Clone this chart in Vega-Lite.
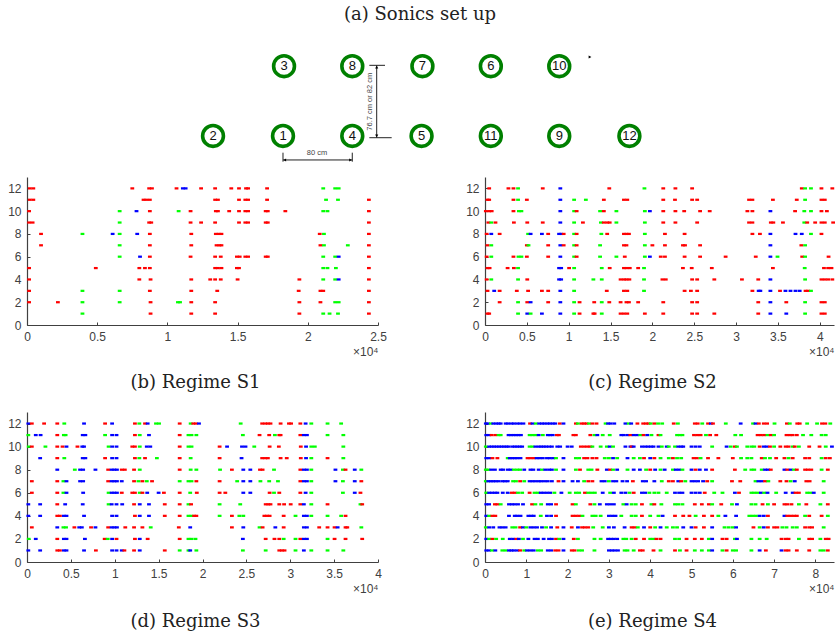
{"$schema":"https://vega.github.io/schema/vega-lite/v6.json","padding":{"left":7,"top":6,"right":0,"bottom":0},"background":"white","spacing":20,
"config":{"view":{"stroke":null},"axis":{"grid":false,"labelFlush":false,"labelOverlap":false,"domainColor":"#404040","domainWidth":1.2,"tickColor":"#404040","tickSize":-3,"labelColor":"#404040","labelFont":"Liberation Sans","labelFontSize":12,"labelPadding":9,"titleFont":"Liberation Sans","titleFontSize":12,"titleColor":"#404040","titleFontWeight":"normal","labelAngle":0},"title":{"font":"DejaVu Serif","fontSize":18,"fontWeight":"normal","color":"#222222"}},
"vconcat":[
{"spacing":7,"vconcat":[
{"width":786,"height":140,"title":{"text":"(a) Sonics set up","orient":"top","anchor":"middle","offset":6},
"encoding":{"x":{"field":"x","type":"quantitative","scale":{"domain":[-295.6,612],"nice":false,"zero":false},"axis":null},"y":{"field":"y","type":"quantitative","scale":{"domain":[-39.3,122.4],"nice":false,"zero":false},"axis":null}},
"layer":[
{"data":{"values":[{"x":99.7,"x2":117.8,"y":81.6,"y2":81.6},{"x":99.7,"x2":125.5,"y":-2,"y2":-2},{"x":108.2,"x2":108.2,"y":-2,"y2":81.6},{"x":0,"x2":80,"y":-27.7,"y2":-27.7},{"x":0,"x2":0,"y":-19.3,"y2":-29.7},{"x":80,"x2":80,"y":-19.3,"y2":-29.7}]},"mark":{"type":"rule","color":"#222222","strokeWidth":1},"encoding":{"x2":{"field":"x2"},"y2":{"field":"y2"}}},
{"data":{"values":[{"x":2,"y":-27.7,"k":"triangle-left"},{"x":78,"y":-27.7,"k":"triangle-right"},{"x":108.2,"y":79.5,"k":"triangle-up"},{"x":108.2,"y":0,"k":"triangle-down"},{"x":354.5,"y":91.2,"k":"triangle-right"}]},"mark":{"type":"point","filled":true,"color":"black","size":10,"opacity":1},"encoding":{"shape":{"field":"k","type":"nominal","scale":null}}},
{"data":{"values":[{"x":-80.8,"y":0,"n":"2"},{"x":0,"y":0,"n":"1"},{"x":80,"y":0,"n":"4"},{"x":160,"y":0,"n":"5"},{"x":240,"y":0,"n":"11"},{"x":319,"y":0,"n":"9"},{"x":400,"y":0,"n":"12"},{"x":1.2,"y":80.6,"n":"3"},{"x":80,"y":80.6,"n":"8"},{"x":161,"y":80.6,"n":"7"},{"x":240,"y":80.6,"n":"6"},{"x":319,"y":80.6,"n":"10"}]},
"layer":[{"mark":{"type":"point","shape":"circle","filled":false,"color":"#008000","strokeWidth":3.6,"size":434,"opacity":1}},
{"mark":{"type":"text","font":"Liberation Sans","fontSize":13,"color":"#111111"},"encoding":{"text":{"field":"n"}}}]},
{"data":{"values":[{"x":39.3,"y":-20,"n":"80 cm","a":0},{"x":100.5,"y":39.6,"n":"76.7 cm or 82 cm","a":270}]},"mark":{"type":"text","font":"Liberation Sans","fontSize":7.5,"color":"#444444"},"encoding":{"text":{"field":"n"},"angle":{"field":"a","type":"quantitative","scale":null}}}
]},
{"spacing":78,"hconcat":[
{"width":351,"height":148,"title":{"text":"(b) Regime S1","orient":"bottom","anchor":"middle","offset":17,"dx":-7},
"data":{"values":[
{"t":0.02,"s":12,"c":"r"},{"t":0.045,"s":12,"c":"r"},{"t":0.75,"s":12,"c":"r"},{"t":0.87,"s":12,"c":"r"},{"t":0.89,"s":12,"c":"r"},{"t":1.065,"s":12,"c":"r"},{"t":1.11,"s":12,"c":"b"},{"t":1.13,"s":12,"c":"b"},{"t":1.24,"s":12,"c":"r"},{"t":1.34,"s":12,"c":"r"},{"t":1.455,"s":12,"c":"r"},{"t":1.51,"s":12,"c":"r"},{"t":1.56,"s":12,"c":"r"},{"t":1.575,"s":12,"c":"r"},{"t":1.71,"s":12,"c":"r"},{"t":2.11,"s":12,"c":"g"},{"t":2.195,"s":12,"c":"g"},{"t":2.22,"s":12,"c":"g"},
{"t":0.02,"s":11,"c":"r"},{"t":0.045,"s":11,"c":"r"},{"t":0.83,"s":11,"c":"r"},{"t":0.85,"s":11,"c":"r"},{"t":0.875,"s":11,"c":"r"},{"t":1.34,"s":11,"c":"r"},{"t":1.36,"s":11,"c":"r"},{"t":1.51,"s":11,"c":"r"},{"t":1.555,"s":11,"c":"r"},{"t":1.575,"s":11,"c":"r"},{"t":1.71,"s":11,"c":"r"},{"t":2.13,"s":11,"c":"g"},{"t":2.215,"s":11,"c":"g"},{"t":2.435,"s":11,"c":"r"},
{"t":0.015,"s":10,"c":"r"},{"t":0.66,"s":10,"c":"g"},{"t":0.78,"s":10,"c":"b"},{"t":0.875,"s":10,"c":"r"},{"t":1.08,"s":10,"c":"g"},{"t":1.165,"s":10,"c":"r"},{"t":1.345,"s":10,"c":"r"},{"t":1.36,"s":10,"c":"r"},{"t":1.44,"s":10,"c":"r"},{"t":1.51,"s":10,"c":"r"},{"t":1.555,"s":10,"c":"r"},{"t":1.575,"s":10,"c":"r"},{"t":1.7,"s":10,"c":"r"},{"t":1.715,"s":10,"c":"r"},{"t":1.84,"s":10,"c":"r"},{"t":2.11,"s":10,"c":"g"},{"t":2.14,"s":10,"c":"g"},{"t":2.435,"s":10,"c":"r"},
{"t":0.015,"s":9,"c":"r"},{"t":0.04,"s":9,"c":"r"},{"t":0.66,"s":9,"c":"g"},{"t":0.87,"s":9,"c":"r"},{"t":0.885,"s":9,"c":"r"},{"t":1.165,"s":9,"c":"r"},{"t":1.24,"s":9,"c":"r"},{"t":1.34,"s":9,"c":"r"},{"t":1.51,"s":9,"c":"r"},{"t":1.555,"s":9,"c":"r"},{"t":1.575,"s":9,"c":"r"},{"t":1.7,"s":9,"c":"r"},{"t":1.715,"s":9,"c":"r"},{"t":2.435,"s":9,"c":"r"},
{"t":0.1,"s":8,"c":"r"},{"t":0.395,"s":8,"c":"g"},{"t":0.61,"s":8,"c":"b"},{"t":0.66,"s":8,"c":"g"},{"t":0.785,"s":8,"c":"b"},{"t":0.875,"s":8,"c":"r"},{"t":1.17,"s":8,"c":"r"},{"t":1.345,"s":8,"c":"r"},{"t":1.365,"s":8,"c":"r"},{"t":1.385,"s":8,"c":"r"},{"t":2.085,"s":8,"c":"r"},{"t":2.115,"s":8,"c":"g"},{"t":2.435,"s":8,"c":"r"},
{"t":0.1,"s":7,"c":"r"},{"t":0.66,"s":7,"c":"g"},{"t":0.875,"s":7,"c":"r"},{"t":1.17,"s":7,"c":"r"},{"t":1.35,"s":7,"c":"r"},{"t":1.37,"s":7,"c":"r"},{"t":1.385,"s":7,"c":"r"},{"t":2.09,"s":7,"c":"r"},{"t":2.115,"s":7,"c":"g"},{"t":2.285,"s":7,"c":"g"},{"t":2.435,"s":7,"c":"r"},
{"t":0.66,"s":6,"c":"g"},{"t":0.805,"s":6,"c":"b"},{"t":0.875,"s":6,"c":"r"},{"t":1.165,"s":6,"c":"r"},{"t":1.34,"s":6,"c":"r"},{"t":1.38,"s":6,"c":"r"},{"t":1.495,"s":6,"c":"r"},{"t":1.515,"s":6,"c":"r"},{"t":1.555,"s":6,"c":"r"},{"t":1.575,"s":6,"c":"r"},{"t":1.7,"s":6,"c":"r"},{"t":1.715,"s":6,"c":"r"},{"t":2.11,"s":6,"c":"g"},{"t":2.195,"s":6,"c":"g"},{"t":2.22,"s":6,"c":"b"},{"t":2.435,"s":6,"c":"r"},
{"t":0.015,"s":5,"c":"r"},{"t":0.49,"s":5,"c":"r"},{"t":0.8,"s":5,"c":"r"},{"t":0.84,"s":5,"c":"r"},{"t":0.875,"s":5,"c":"r"},{"t":1.34,"s":5,"c":"r"},{"t":1.36,"s":5,"c":"r"},{"t":1.385,"s":5,"c":"r"},{"t":1.495,"s":5,"c":"r"},{"t":1.51,"s":5,"c":"r"},{"t":2.11,"s":5,"c":"g"},{"t":2.14,"s":5,"c":"g"},{"t":2.2,"s":5,"c":"g"},{"t":2.435,"s":5,"c":"r"},
{"t":0.015,"s":4,"c":"r"},{"t":0.8,"s":4,"c":"r"},{"t":0.88,"s":4,"c":"r"},{"t":1.17,"s":4,"c":"r"},{"t":1.305,"s":4,"c":"r"},{"t":1.34,"s":4,"c":"r"},{"t":1.38,"s":4,"c":"r"},{"t":1.5,"s":4,"c":"r"},{"t":1.94,"s":4,"c":"r"},{"t":2.11,"s":4,"c":"g"},{"t":2.195,"s":4,"c":"g"},{"t":2.22,"s":4,"c":"b"},{"t":2.435,"s":4,"c":"r"},
{"t":0.015,"s":3,"c":"r"},{"t":0.395,"s":3,"c":"g"},{"t":0.66,"s":3,"c":"g"},{"t":0.875,"s":3,"c":"r"},{"t":1.17,"s":3,"c":"r"},{"t":1.355,"s":3,"c":"r"},{"t":1.935,"s":3,"c":"r"},{"t":2.09,"s":3,"c":"r"},{"t":2.11,"s":3,"c":"r"},{"t":2.435,"s":3,"c":"r"},
{"t":0.015,"s":2,"c":"r"},{"t":0.22,"s":2,"c":"r"},{"t":0.395,"s":2,"c":"g"},{"t":0.66,"s":2,"c":"g"},{"t":0.88,"s":2,"c":"r"},{"t":1.075,"s":2,"c":"g"},{"t":1.09,"s":2,"c":"g"},{"t":1.17,"s":2,"c":"r"},{"t":1.34,"s":2,"c":"r"},{"t":1.94,"s":2,"c":"r"},{"t":2.09,"s":2,"c":"r"},{"t":2.195,"s":2,"c":"g"},{"t":2.22,"s":2,"c":"g"},{"t":2.435,"s":2,"c":"r"},
{"t":0.395,"s":1,"c":"g"},{"t":0.88,"s":1,"c":"r"},{"t":1.17,"s":1,"c":"r"},{"t":1.34,"s":1,"c":"r"},{"t":1.94,"s":1,"c":"r"},{"t":2.11,"s":1,"c":"g"},{"t":2.155,"s":1,"c":"g"},{"t":2.215,"s":1,"c":"g"},{"t":2.435,"s":1,"c":"r"}
]},
"mark":{"type":"point","filled":true,"opacity":1,"size":5,"shape":"M-1.7,-1H1.7V1H-1.7Z"},
"encoding":{"x":{"field":"t","type":"quantitative","scale":{"domain":[0,2.5]},"axis":{"values":[0,0.5,1,1.5,2,2.5],"format":"~g","title":"×10⁴","titleAnchor":"end","titleAlign":"right","titlePadding":4}},"y":{"field":"s","type":"quantitative","scale":{"domain":[0,13]},"axis":{"values":[0,2,4,6,8,10,12],"title":null}},"color":{"field":"c","type":"nominal","scale":{"domain":["r","g","b"],"range":["#ff0000","#00ff00","#0000ff"]},"legend":null}}},
{"width":349,"height":148,"title":{"text":"(c) Regime S2","orient":"bottom","anchor":"middle","offset":17,"dx":-7},
"data":{"values":[
{"t":0.05,"s":12,"c":"r"},{"t":0.28,"s":12,"c":"r"},{"t":0.34,"s":12,"c":"r"},{"t":0.395,"s":12,"c":"g"},{"t":0.69,"s":12,"c":"r"},{"t":0.9,"s":12,"c":"b"},{"t":1.485,"s":12,"c":"r"},{"t":1.905,"s":12,"c":"g"},{"t":2.13,"s":12,"c":"r"},{"t":2.275,"s":12,"c":"r"},{"t":2.475,"s":12,"c":"r"},{"t":3.785,"s":12,"c":"r"},{"t":3.825,"s":12,"c":"g"},{"t":3.895,"s":12,"c":"g"},{"t":4.02,"s":12,"c":"r"},{"t":4.15,"s":12,"c":"r"},
{"t":0.03,"s":11,"c":"r"},{"t":0.05,"s":11,"c":"r"},{"t":0.34,"s":11,"c":"r"},{"t":0.395,"s":11,"c":"g"},{"t":0.5,"s":11,"c":"r"},{"t":0.9,"s":11,"c":"b"},{"t":1.065,"s":11,"c":"g"},{"t":1.205,"s":11,"c":"g"},{"t":1.42,"s":11,"c":"r"},{"t":1.66,"s":11,"c":"r"},{"t":1.7,"s":11,"c":"r"},{"t":2.13,"s":11,"c":"r"},{"t":2.27,"s":11,"c":"r"},{"t":2.475,"s":11,"c":"r"},{"t":2.535,"s":11,"c":"r"},{"t":3.155,"s":11,"c":"r"},{"t":3.195,"s":11,"c":"r"},{"t":3.44,"s":11,"c":"r"},{"t":3.725,"s":11,"c":"r"},{"t":3.825,"s":11,"c":"g"},{"t":4.02,"s":11,"c":"r"},{"t":4.06,"s":11,"c":"r"},
{"t":0.01,"s":10,"c":"r"},{"t":0.05,"s":10,"c":"r"},{"t":0.08,"s":10,"c":"r"},{"t":0.34,"s":10,"c":"r"},{"t":0.405,"s":10,"c":"g"},{"t":0.435,"s":10,"c":"g"},{"t":0.9,"s":10,"c":"b"},{"t":1.065,"s":10,"c":"g"},{"t":1.095,"s":10,"c":"r"},{"t":1.375,"s":10,"c":"g"},{"t":1.42,"s":10,"c":"r"},{"t":1.57,"s":10,"c":"g"},{"t":1.91,"s":10,"c":"g"},{"t":1.97,"s":10,"c":"b"},{"t":2.13,"s":10,"c":"r"},{"t":2.275,"s":10,"c":"r"},{"t":2.38,"s":10,"c":"r"},{"t":2.57,"s":10,"c":"r"},{"t":2.685,"s":10,"c":"r"},{"t":3.135,"s":10,"c":"r"},{"t":3.195,"s":10,"c":"r"},{"t":3.41,"s":10,"c":"b"},{"t":3.705,"s":10,"c":"r"},{"t":3.815,"s":10,"c":"g"},{"t":3.895,"s":10,"c":"g"},{"t":4.02,"s":10,"c":"r"},{"t":4.085,"s":10,"c":"r"},
{"t":0.04,"s":9,"c":"r"},{"t":0.075,"s":9,"c":"g"},{"t":0.125,"s":9,"c":"r"},{"t":0.345,"s":9,"c":"r"},{"t":0.505,"s":9,"c":"r"},{"t":0.69,"s":9,"c":"r"},{"t":0.9,"s":9,"c":"b"},{"t":1.065,"s":9,"c":"g"},{"t":1.17,"s":9,"c":"r"},{"t":1.385,"s":9,"c":"g"},{"t":1.42,"s":9,"c":"r"},{"t":1.46,"s":9,"c":"r"},{"t":1.49,"s":9,"c":"r"},{"t":1.57,"s":9,"c":"g"},{"t":1.91,"s":9,"c":"g"},{"t":2.13,"s":9,"c":"r"},{"t":2.275,"s":9,"c":"r"},{"t":2.535,"s":9,"c":"r"},{"t":3.155,"s":9,"c":"r"},{"t":3.195,"s":9,"c":"r"},{"t":3.415,"s":9,"c":"r"},{"t":3.445,"s":9,"c":"r"},{"t":3.56,"s":9,"c":"r"},{"t":3.815,"s":9,"c":"g"},{"t":3.85,"s":9,"c":"r"},{"t":3.945,"s":9,"c":"r"},{"t":4.02,"s":9,"c":"r"},{"t":4.06,"s":9,"c":"r"},{"t":4.16,"s":9,"c":"r"},
{"t":0.02,"s":8,"c":"r"},{"t":0.075,"s":8,"c":"b"},{"t":0.175,"s":8,"c":"r"},{"t":0.515,"s":8,"c":"g"},{"t":0.545,"s":8,"c":"b"},{"t":0.68,"s":8,"c":"b"},{"t":0.755,"s":8,"c":"r"},{"t":0.885,"s":8,"c":"b"},{"t":0.91,"s":8,"c":"b"},{"t":0.94,"s":8,"c":"r"},{"t":1.065,"s":8,"c":"g"},{"t":1.095,"s":8,"c":"r"},{"t":1.39,"s":8,"c":"g"},{"t":1.46,"s":8,"c":"r"},{"t":1.66,"s":8,"c":"r"},{"t":1.69,"s":8,"c":"r"},{"t":1.72,"s":8,"c":"r"},{"t":1.91,"s":8,"c":"g"},{"t":2.15,"s":8,"c":"r"},{"t":2.385,"s":8,"c":"r"},{"t":3.195,"s":8,"c":"r"},{"t":3.285,"s":8,"c":"r"},{"t":3.41,"s":8,"c":"b"},{"t":3.71,"s":8,"c":"b"},{"t":3.785,"s":8,"c":"b"},{"t":3.895,"s":8,"c":"g"},{"t":4.02,"s":8,"c":"r"},
{"t":0.03,"s":7,"c":"r"},{"t":0.075,"s":7,"c":"g"},{"t":0.5,"s":7,"c":"r"},{"t":0.52,"s":7,"c":"g"},{"t":0.755,"s":7,"c":"r"},{"t":0.9,"s":7,"c":"b"},{"t":0.94,"s":7,"c":"r"},{"t":1.065,"s":7,"c":"g"},{"t":1.095,"s":7,"c":"r"},{"t":1.375,"s":7,"c":"g"},{"t":1.66,"s":7,"c":"r"},{"t":1.69,"s":7,"c":"r"},{"t":1.91,"s":7,"c":"g"},{"t":2.0,"s":7,"c":"r"},{"t":2.15,"s":7,"c":"r"},{"t":2.365,"s":7,"c":"r"},{"t":2.39,"s":7,"c":"r"},{"t":2.57,"s":7,"c":"r"},{"t":3.41,"s":7,"c":"b"},{"t":3.78,"s":7,"c":"r"},{"t":3.825,"s":7,"c":"g"},
{"t":0.02,"s":6,"c":"r"},{"t":0.075,"s":6,"c":"g"},{"t":0.34,"s":6,"c":"r"},{"t":0.4,"s":6,"c":"g"},{"t":0.435,"s":6,"c":"g"},{"t":0.5,"s":6,"c":"r"},{"t":0.755,"s":6,"c":"r"},{"t":0.9,"s":6,"c":"b"},{"t":1.065,"s":6,"c":"g"},{"t":1.095,"s":6,"c":"r"},{"t":1.375,"s":6,"c":"g"},{"t":1.57,"s":6,"c":"g"},{"t":1.67,"s":6,"c":"r"},{"t":1.91,"s":6,"c":"g"},{"t":1.97,"s":6,"c":"b"},{"t":2.1,"s":6,"c":"r"},{"t":2.15,"s":6,"c":"r"},{"t":2.385,"s":6,"c":"r"},{"t":2.57,"s":6,"c":"r"},{"t":2.875,"s":6,"c":"r"},{"t":3.235,"s":6,"c":"r"},{"t":3.41,"s":6,"c":"b"},{"t":3.495,"s":6,"c":"g"},{"t":3.79,"s":6,"c":"r"},{"t":3.825,"s":6,"c":"g"},{"t":4.105,"s":6,"c":"r"},
{"t":0.03,"s":5,"c":"r"},{"t":0.055,"s":5,"c":"r"},{"t":0.27,"s":5,"c":"r"},{"t":0.345,"s":5,"c":"r"},{"t":0.395,"s":5,"c":"g"},{"t":0.885,"s":5,"c":"b"},{"t":0.91,"s":5,"c":"b"},{"t":1.005,"s":5,"c":"r"},{"t":1.065,"s":5,"c":"g"},{"t":1.395,"s":5,"c":"g"},{"t":1.49,"s":5,"c":"r"},{"t":1.66,"s":5,"c":"r"},{"t":1.69,"s":5,"c":"r"},{"t":1.73,"s":5,"c":"r"},{"t":1.83,"s":5,"c":"r"},{"t":1.9,"s":5,"c":"g"},{"t":2.365,"s":5,"c":"r"},{"t":2.47,"s":5,"c":"r"},{"t":2.71,"s":5,"c":"r"},{"t":3.44,"s":5,"c":"r"},{"t":3.82,"s":5,"c":"g"},{"t":4.05,"s":5,"c":"r"},{"t":4.1,"s":5,"c":"r"},{"t":4.14,"s":5,"c":"r"},
{"t":0.02,"s":4,"c":"r"},{"t":0.075,"s":4,"c":"g"},{"t":0.395,"s":4,"c":"g"},{"t":0.505,"s":4,"c":"r"},{"t":0.885,"s":4,"c":"b"},{"t":0.91,"s":4,"c":"b"},{"t":1.065,"s":4,"c":"g"},{"t":1.295,"s":4,"c":"g"},{"t":1.395,"s":4,"c":"g"},{"t":1.62,"s":4,"c":"r"},{"t":1.66,"s":4,"c":"r"},{"t":1.69,"s":4,"c":"r"},{"t":1.725,"s":4,"c":"r"},{"t":1.9,"s":4,"c":"g"},{"t":2.12,"s":4,"c":"r"},{"t":2.16,"s":4,"c":"r"},{"t":2.475,"s":4,"c":"r"},{"t":2.535,"s":4,"c":"r"},{"t":2.74,"s":4,"c":"r"},{"t":3.07,"s":4,"c":"r"},{"t":3.265,"s":4,"c":"r"},{"t":3.41,"s":4,"c":"b"},{"t":3.825,"s":4,"c":"g"},{"t":4.02,"s":4,"c":"r"},{"t":4.06,"s":4,"c":"r"},{"t":4.1,"s":4,"c":"r"},{"t":4.15,"s":4,"c":"r"},
{"t":0.03,"s":3,"c":"r"},{"t":0.11,"s":3,"c":"b"},{"t":0.175,"s":3,"c":"r"},{"t":0.38,"s":3,"c":"r"},{"t":0.515,"s":3,"c":"r"},{"t":0.68,"s":3,"c":"r"},{"t":0.755,"s":3,"c":"r"},{"t":0.9,"s":3,"c":"b"},{"t":1.065,"s":3,"c":"g"},{"t":1.455,"s":3,"c":"r"},{"t":1.66,"s":3,"c":"r"},{"t":1.7,"s":3,"c":"r"},{"t":1.9,"s":3,"c":"g"},{"t":2.385,"s":3,"c":"r"},{"t":2.46,"s":3,"c":"r"},{"t":2.535,"s":3,"c":"r"},{"t":3.195,"s":3,"c":"r"},{"t":3.27,"s":3,"c":"b"},{"t":3.29,"s":3,"c":"b"},{"t":3.41,"s":3,"c":"b"},{"t":3.525,"s":3,"c":"r"},{"t":3.59,"s":3,"c":"b"},{"t":3.65,"s":3,"c":"b"},{"t":3.71,"s":3,"c":"b"},{"t":3.76,"s":3,"c":"b"},{"t":3.83,"s":3,"c":"r"},{"t":3.86,"s":3,"c":"r"},{"t":3.895,"s":3,"c":"g"},
{"t":0.175,"s":2,"c":"r"},{"t":0.395,"s":2,"c":"g"},{"t":0.505,"s":2,"c":"r"},{"t":0.545,"s":2,"c":"b"},{"t":0.755,"s":2,"c":"r"},{"t":0.9,"s":2,"c":"b"},{"t":1.065,"s":2,"c":"g"},{"t":1.13,"s":2,"c":"r"},{"t":1.305,"s":2,"c":"r"},{"t":1.395,"s":2,"c":"g"},{"t":1.485,"s":2,"c":"r"},{"t":1.62,"s":2,"c":"r"},{"t":1.69,"s":2,"c":"r"},{"t":1.72,"s":2,"c":"r"},{"t":1.83,"s":2,"c":"r"},{"t":2.13,"s":2,"c":"r"},{"t":2.475,"s":2,"c":"r"},{"t":2.535,"s":2,"c":"r"},{"t":3.265,"s":2,"c":"r"},{"t":3.41,"s":2,"c":"b"},{"t":3.6,"s":2,"c":"r"},{"t":3.825,"s":2,"c":"g"},{"t":4.02,"s":2,"c":"r"},{"t":4.06,"s":2,"c":"r"},
{"t":0.03,"s":1,"c":"r"},{"t":0.05,"s":1,"c":"r"},{"t":0.395,"s":1,"c":"g"},{"t":0.505,"s":1,"c":"b"},{"t":0.545,"s":1,"c":"g"},{"t":0.68,"s":1,"c":"b"},{"t":0.9,"s":1,"c":"b"},{"t":1.065,"s":1,"c":"g"},{"t":1.13,"s":1,"c":"r"},{"t":1.295,"s":1,"c":"r"},{"t":1.31,"s":1,"c":"r"},{"t":1.395,"s":1,"c":"g"},{"t":1.62,"s":1,"c":"r"},{"t":1.66,"s":1,"c":"r"},{"t":1.7,"s":1,"c":"r"},{"t":1.91,"s":1,"c":"r"},{"t":2.13,"s":1,"c":"r"},{"t":2.475,"s":1,"c":"r"},{"t":2.535,"s":1,"c":"r"},{"t":2.74,"s":1,"c":"r"},{"t":3.265,"s":1,"c":"r"},{"t":3.41,"s":1,"c":"b"},{"t":3.6,"s":1,"c":"b"},{"t":3.825,"s":1,"c":"g"},{"t":4.02,"s":1,"c":"r"},{"t":4.06,"s":1,"c":"r"}
]},
"mark":{"type":"point","filled":true,"opacity":1,"size":5,"shape":"M-1.7,-1H1.7V1H-1.7Z"},
"encoding":{"x":{"field":"t","type":"quantitative","scale":{"domain":[0,4.17]},"axis":{"values":[0,0.5,1,1.5,2,2.5,3,3.5,4],"format":"~g","title":"×10⁴","titleAnchor":"end","titleAlign":"right","titlePadding":4}},"y":{"field":"s","type":"quantitative","scale":{"domain":[0,13]},"axis":{"values":[0,2,4,6,8,10,12],"title":null}},"color":{"field":"c","type":"nominal","scale":{"domain":["r","g","b"],"range":["#ff0000","#00ff00","#0000ff"]},"legend":null}}}
]}]},
{"spacing":83,"hconcat":[
{"width":351,"height":150,"title":{"text":"(d) Regime S3","orient":"bottom","anchor":"middle","offset":19,"dx":-7},
"data":{"values":[
{"t":0.015,"s":12,"c":"b"},{"t":0.055,"s":12,"c":"r"},{"t":0.195,"s":12,"c":"r"},{"t":0.345,"s":12,"c":"r"},{"t":0.425,"s":12,"c":"g"},{"t":0.65,"s":12,"c":"b"},{"t":0.89,"s":12,"c":"r"},{"t":0.97,"s":12,"c":"b"},{"t":1.23,"s":12,"c":"r"},{"t":1.28,"s":12,"c":"g"},{"t":1.345,"s":12,"c":"r"},{"t":1.375,"s":12,"c":"b"},{"t":1.47,"s":12,"c":"g"},{"t":1.505,"s":12,"c":"g"},{"t":1.74,"s":12,"c":"r"},{"t":1.865,"s":12,"c":"g"},{"t":1.895,"s":12,"c":"r"},{"t":1.925,"s":12,"c":"r"},{"t":1.96,"s":12,"c":"b"},{"t":2.435,"s":12,"c":"g"},{"t":2.68,"s":12,"c":"r"},{"t":2.715,"s":12,"c":"r"},{"t":2.745,"s":12,"c":"r"},{"t":2.775,"s":12,"c":"r"},{"t":2.89,"s":12,"c":"r"},{"t":2.985,"s":12,"c":"r"},{"t":3.01,"s":12,"c":"r"},{"t":3.115,"s":12,"c":"r"},{"t":3.175,"s":12,"c":"b"},{"t":3.24,"s":12,"c":"g"},{"t":3.425,"s":12,"c":"g"},{"t":3.58,"s":12,"c":"g"},
{"t":0.015,"s":11,"c":"g"},{"t":0.1,"s":11,"c":"b"},{"t":0.155,"s":11,"c":"b"},{"t":0.345,"s":11,"c":"r"},{"t":0.42,"s":11,"c":"g"},{"t":0.44,"s":11,"c":"g"},{"t":0.635,"s":11,"c":"b"},{"t":0.665,"s":11,"c":"b"},{"t":0.89,"s":11,"c":"g"},{"t":0.97,"s":11,"c":"b"},{"t":1.02,"s":11,"c":"b"},{"t":1.23,"s":11,"c":"r"},{"t":1.285,"s":11,"c":"g"},{"t":1.39,"s":11,"c":"b"},{"t":1.74,"s":11,"c":"r"},{"t":1.84,"s":11,"c":"g"},{"t":1.875,"s":11,"c":"g"},{"t":1.93,"s":11,"c":"g"},{"t":2.46,"s":11,"c":"g"},{"t":2.65,"s":11,"c":"r"},{"t":2.76,"s":11,"c":"r"},{"t":2.825,"s":11,"c":"g"},{"t":2.875,"s":11,"c":"r"},{"t":2.89,"s":11,"c":"r"},{"t":3.115,"s":11,"c":"r"},{"t":3.155,"s":11,"c":"b"},{"t":3.19,"s":11,"c":"b"},{"t":3.425,"s":11,"c":"g"},{"t":3.605,"s":11,"c":"g"},
{"t":0.02,"s":10,"c":"g"},{"t":0.055,"s":10,"c":"r"},{"t":0.21,"s":10,"c":"g"},{"t":0.345,"s":10,"c":"r"},{"t":0.405,"s":10,"c":"r"},{"t":0.45,"s":10,"c":"b"},{"t":0.575,"s":10,"c":"r"},{"t":0.63,"s":10,"c":"b"},{"t":0.65,"s":10,"c":"b"},{"t":0.93,"s":10,"c":"g"},{"t":0.97,"s":10,"c":"b"},{"t":1.02,"s":10,"c":"b"},{"t":1.2,"s":10,"c":"r"},{"t":1.23,"s":10,"c":"r"},{"t":1.285,"s":10,"c":"g"},{"t":1.365,"s":10,"c":"b"},{"t":1.405,"s":10,"c":"b"},{"t":1.74,"s":10,"c":"r"},{"t":1.84,"s":10,"c":"g"},{"t":1.875,"s":10,"c":"g"},{"t":2.195,"s":10,"c":"r"},{"t":2.28,"s":10,"c":"b"},{"t":2.45,"s":10,"c":"b"},{"t":2.49,"s":10,"c":"b"},{"t":2.59,"s":10,"c":"g"},{"t":2.765,"s":10,"c":"r"},{"t":2.87,"s":10,"c":"r"},{"t":3.12,"s":10,"c":"r"},{"t":3.18,"s":10,"c":"b"},{"t":3.24,"s":10,"c":"g"},{"t":3.28,"s":10,"c":"g"},{"t":3.605,"s":10,"c":"g"},
{"t":0.15,"s":9,"c":"b"},{"t":0.345,"s":9,"c":"r"},{"t":0.425,"s":9,"c":"g"},{"t":0.635,"s":9,"c":"b"},{"t":0.665,"s":9,"c":"b"},{"t":0.89,"s":9,"c":"r"},{"t":0.97,"s":9,"c":"b"},{"t":1.02,"s":9,"c":"b"},{"t":1.23,"s":9,"c":"r"},{"t":1.28,"s":9,"c":"g"},{"t":1.345,"s":9,"c":"r"},{"t":1.48,"s":9,"c":"g"},{"t":1.74,"s":9,"c":"r"},{"t":1.865,"s":9,"c":"g"},{"t":2.195,"s":9,"c":"r"},{"t":2.445,"s":9,"c":"b"},{"t":2.68,"s":9,"c":"r"},{"t":2.715,"s":9,"c":"r"},{"t":2.745,"s":9,"c":"r"},{"t":2.89,"s":9,"c":"r"},{"t":2.96,"s":9,"c":"r"},{"t":3.12,"s":9,"c":"r"},{"t":3.18,"s":9,"c":"b"},{"t":3.24,"s":9,"c":"g"},{"t":3.425,"s":9,"c":"r"},{"t":3.605,"s":9,"c":"g"},
{"t":0.345,"s":8,"c":"b"},{"t":0.545,"s":8,"c":"g"},{"t":0.605,"s":8,"c":"b"},{"t":0.64,"s":8,"c":"b"},{"t":0.78,"s":8,"c":"b"},{"t":0.925,"s":8,"c":"r"},{"t":0.965,"s":8,"c":"b"},{"t":0.995,"s":8,"c":"b"},{"t":1.025,"s":8,"c":"b"},{"t":1.08,"s":8,"c":"r"},{"t":1.115,"s":8,"c":"r"},{"t":1.22,"s":8,"c":"r"},{"t":1.285,"s":8,"c":"g"},{"t":1.74,"s":8,"c":"r"},{"t":1.865,"s":8,"c":"g"},{"t":1.93,"s":8,"c":"g"},{"t":2.2,"s":8,"c":"g"},{"t":2.335,"s":8,"c":"r"},{"t":2.465,"s":8,"c":"b"},{"t":2.545,"s":8,"c":"b"},{"t":2.655,"s":8,"c":"r"},{"t":2.685,"s":8,"c":"r"},{"t":2.815,"s":8,"c":"g"},{"t":3.115,"s":8,"c":"r"},{"t":3.155,"s":8,"c":"b"},{"t":3.19,"s":8,"c":"b"},{"t":3.24,"s":8,"c":"g"},{"t":3.515,"s":8,"c":"b"},{"t":3.6,"s":8,"c":"g"},{"t":3.63,"s":8,"c":"r"},{"t":3.735,"s":8,"c":"b"},{"t":3.81,"s":8,"c":"g"},
{"t":0.055,"s":7,"c":"r"},{"t":0.345,"s":7,"c":"r"},{"t":0.415,"s":7,"c":"g"},{"t":0.45,"s":7,"c":"b"},{"t":0.605,"s":7,"c":"b"},{"t":0.64,"s":7,"c":"b"},{"t":0.925,"s":7,"c":"r"},{"t":0.965,"s":7,"c":"b"},{"t":0.995,"s":7,"c":"b"},{"t":1.025,"s":7,"c":"b"},{"t":1.08,"s":7,"c":"b"},{"t":1.22,"s":7,"c":"r"},{"t":1.27,"s":7,"c":"g"},{"t":1.315,"s":7,"c":"r"},{"t":1.365,"s":7,"c":"g"},{"t":1.425,"s":7,"c":"r"},{"t":1.74,"s":7,"c":"g"},{"t":1.84,"s":7,"c":"g"},{"t":1.875,"s":7,"c":"g"},{"t":1.93,"s":7,"c":"r"},{"t":2.195,"s":7,"c":"r"},{"t":2.395,"s":7,"c":"g"},{"t":2.465,"s":7,"c":"b"},{"t":2.545,"s":7,"c":"b"},{"t":2.66,"s":7,"c":"g"},{"t":2.76,"s":7,"c":"g"},{"t":2.86,"s":7,"c":"g"},{"t":3.115,"s":7,"c":"r"},{"t":3.155,"s":7,"c":"b"},{"t":3.19,"s":7,"c":"b"},{"t":3.24,"s":7,"c":"g"},{"t":3.515,"s":7,"c":"b"},{"t":3.6,"s":7,"c":"g"},{"t":3.735,"s":7,"c":"b"},{"t":3.81,"s":7,"c":"r"},
{"t":0.055,"s":6,"c":"r"},{"t":0.345,"s":6,"c":"r"},{"t":0.415,"s":6,"c":"g"},{"t":0.45,"s":6,"c":"b"},{"t":0.64,"s":6,"c":"b"},{"t":0.93,"s":6,"c":"g"},{"t":0.965,"s":6,"c":"b"},{"t":0.995,"s":6,"c":"b"},{"t":1.025,"s":6,"c":"b"},{"t":1.08,"s":6,"c":"r"},{"t":1.2,"s":6,"c":"r"},{"t":1.23,"s":6,"c":"r"},{"t":1.285,"s":6,"c":"g"},{"t":1.315,"s":6,"c":"r"},{"t":1.37,"s":6,"c":"b"},{"t":1.5,"s":6,"c":"b"},{"t":1.56,"s":6,"c":"r"},{"t":1.74,"s":6,"c":"r"},{"t":1.86,"s":6,"c":"g"},{"t":1.935,"s":6,"c":"r"},{"t":2.195,"s":6,"c":"r"},{"t":2.26,"s":6,"c":"r"},{"t":2.465,"s":6,"c":"b"},{"t":2.545,"s":6,"c":"b"},{"t":2.765,"s":6,"c":"r"},{"t":2.815,"s":6,"c":"g"},{"t":2.875,"s":6,"c":"r"},{"t":3.115,"s":6,"c":"r"},{"t":3.175,"s":6,"c":"b"},{"t":3.24,"s":6,"c":"g"},{"t":3.6,"s":6,"c":"g"},{"t":3.735,"s":6,"c":"b"},{"t":3.8,"s":6,"c":"r"},
{"t":0.015,"s":5,"c":"b"},{"t":0.15,"s":5,"c":"b"},{"t":0.345,"s":5,"c":"r"},{"t":0.435,"s":5,"c":"b"},{"t":0.635,"s":5,"c":"b"},{"t":0.93,"s":5,"c":"g"},{"t":0.965,"s":5,"c":"b"},{"t":1.02,"s":5,"c":"b"},{"t":1.085,"s":5,"c":"b"},{"t":1.22,"s":5,"c":"r"},{"t":1.285,"s":5,"c":"b"},{"t":1.39,"s":5,"c":"b"},{"t":1.57,"s":5,"c":"r"},{"t":1.74,"s":5,"c":"r"},{"t":1.84,"s":5,"c":"g"},{"t":1.87,"s":5,"c":"r"},{"t":2.195,"s":5,"c":"g"},{"t":2.43,"s":5,"c":"g"},{"t":2.72,"s":5,"c":"r"},{"t":2.75,"s":5,"c":"r"},{"t":2.775,"s":5,"c":"r"},{"t":2.875,"s":5,"c":"r"},{"t":2.93,"s":5,"c":"r"},{"t":3.005,"s":5,"c":"r"},{"t":3.115,"s":5,"c":"r"},{"t":3.155,"s":5,"c":"b"},{"t":3.24,"s":5,"c":"g"},{"t":3.425,"s":5,"c":"r"},{"t":3.8,"s":5,"c":"g"},{"t":3.82,"s":5,"c":"r"},
{"t":0.015,"s":4,"c":"b"},{"t":0.15,"s":4,"c":"b"},{"t":0.345,"s":4,"c":"r"},{"t":0.375,"s":4,"c":"r"},{"t":0.42,"s":4,"c":"b"},{"t":0.45,"s":4,"c":"b"},{"t":0.65,"s":4,"c":"b"},{"t":0.97,"s":4,"c":"b"},{"t":1.02,"s":4,"c":"b"},{"t":1.23,"s":4,"c":"r"},{"t":1.285,"s":4,"c":"b"},{"t":1.39,"s":4,"c":"b"},{"t":1.57,"s":4,"c":"r"},{"t":1.74,"s":4,"c":"r"},{"t":1.84,"s":4,"c":"g"},{"t":1.875,"s":4,"c":"g"},{"t":1.905,"s":4,"c":"r"},{"t":1.93,"s":4,"c":"r"},{"t":2.195,"s":4,"c":"g"},{"t":2.335,"s":4,"c":"r"},{"t":2.42,"s":4,"c":"g"},{"t":2.465,"s":4,"c":"g"},{"t":2.705,"s":4,"c":"r"},{"t":2.735,"s":4,"c":"r"},{"t":2.765,"s":4,"c":"r"},{"t":2.925,"s":4,"c":"r"},{"t":3.06,"s":4,"c":"g"},{"t":3.155,"s":4,"c":"b"},{"t":3.19,"s":4,"c":"b"},{"t":3.24,"s":4,"c":"g"},{"t":3.425,"s":4,"c":"g"},{"t":3.58,"s":4,"c":"g"},{"t":3.63,"s":4,"c":"r"},
{"t":0.055,"s":3,"c":"r"},{"t":0.345,"s":3,"c":"b"},{"t":0.415,"s":3,"c":"g"},{"t":0.445,"s":3,"c":"g"},{"t":0.54,"s":3,"c":"r"},{"t":0.595,"s":3,"c":"b"},{"t":0.625,"s":3,"c":"b"},{"t":0.73,"s":3,"c":"r"},{"t":0.78,"s":3,"c":"b"},{"t":0.925,"s":3,"c":"r"},{"t":0.965,"s":3,"c":"b"},{"t":0.995,"s":3,"c":"b"},{"t":1.025,"s":3,"c":"b"},{"t":1.12,"s":3,"c":"r"},{"t":1.22,"s":3,"c":"r"},{"t":1.315,"s":3,"c":"r"},{"t":1.41,"s":3,"c":"g"},{"t":1.73,"s":3,"c":"r"},{"t":1.86,"s":3,"c":"b"},{"t":2.335,"s":3,"c":"r"},{"t":2.465,"s":3,"c":"b"},{"t":2.65,"s":3,"c":"g"},{"t":2.685,"s":3,"c":"r"},{"t":2.83,"s":3,"c":"b"},{"t":2.925,"s":3,"c":"r"},{"t":3.155,"s":3,"c":"b"},{"t":3.19,"s":3,"c":"b"},{"t":3.33,"s":3,"c":"r"},{"t":3.425,"s":3,"c":"r"},{"t":3.505,"s":3,"c":"r"},{"t":3.54,"s":3,"c":"b"},{"t":3.63,"s":3,"c":"r"},{"t":3.65,"s":3,"c":"r"},{"t":3.81,"s":3,"c":"g"},
{"t":0.02,"s":2,"c":"g"},{"t":0.1,"s":2,"c":"b"},{"t":0.345,"s":2,"c":"r"},{"t":0.42,"s":2,"c":"b"},{"t":0.45,"s":2,"c":"b"},{"t":0.66,"s":2,"c":"b"},{"t":0.885,"s":2,"c":"r"},{"t":0.92,"s":2,"c":"g"},{"t":0.97,"s":2,"c":"b"},{"t":1.02,"s":2,"c":"r"},{"t":1.23,"s":2,"c":"r"},{"t":1.285,"s":2,"c":"b"},{"t":1.375,"s":2,"c":"r"},{"t":1.74,"s":2,"c":"r"},{"t":1.84,"s":2,"c":"g"},{"t":1.875,"s":2,"c":"g"},{"t":1.92,"s":2,"c":"g"},{"t":2.46,"s":2,"c":"b"},{"t":2.72,"s":2,"c":"r"},{"t":2.82,"s":2,"c":"r"},{"t":2.875,"s":2,"c":"r"},{"t":2.925,"s":2,"c":"g"},{"t":3.06,"s":2,"c":"g"},{"t":3.115,"s":2,"c":"r"},{"t":3.155,"s":2,"c":"b"},{"t":3.19,"s":2,"c":"b"},{"t":3.425,"s":2,"c":"g"},{"t":3.505,"s":2,"c":"r"},{"t":3.63,"s":2,"c":"r"},{"t":3.82,"s":2,"c":"r"},
{"t":0.015,"s":1,"c":"b"},{"t":0.15,"s":1,"c":"b"},{"t":0.345,"s":1,"c":"r"},{"t":0.375,"s":1,"c":"r"},{"t":0.42,"s":1,"c":"b"},{"t":0.45,"s":1,"c":"b"},{"t":0.65,"s":1,"c":"b"},{"t":0.785,"s":1,"c":"r"},{"t":0.97,"s":1,"c":"b"},{"t":1.02,"s":1,"c":"b"},{"t":1.08,"s":1,"c":"b"},{"t":1.11,"s":1,"c":"r"},{"t":1.22,"s":1,"c":"r"},{"t":1.285,"s":1,"c":"b"},{"t":1.57,"s":1,"c":"r"},{"t":1.74,"s":1,"c":"g"},{"t":1.84,"s":1,"c":"g"},{"t":1.86,"s":1,"c":"b"},{"t":1.93,"s":1,"c":"g"},{"t":2.46,"s":1,"c":"g"},{"t":2.72,"s":1,"c":"g"},{"t":2.875,"s":1,"c":"r"},{"t":2.905,"s":1,"c":"r"},{"t":2.935,"s":1,"c":"r"},{"t":3.06,"s":1,"c":"g"},{"t":3.155,"s":1,"c":"b"},{"t":3.24,"s":1,"c":"g"},{"t":3.425,"s":1,"c":"g"},{"t":3.605,"s":1,"c":"g"}
]},
"mark":{"type":"point","filled":true,"opacity":1,"size":5,"shape":"M-1.7,-1H1.7V1H-1.7Z"},
"encoding":{"x":{"field":"t","type":"quantitative","scale":{"domain":[0,4]},"axis":{"values":[0,0.5,1,1.5,2,2.5,3,3.5,4],"format":"~g","title":"×10⁴","titleAnchor":"end","titleAlign":"right","titlePadding":4}},"y":{"field":"s","type":"quantitative","scale":{"domain":[0,13]},"axis":{"values":[0,2,4,6,8,10,12],"title":null}},"color":{"field":"c","type":"nominal","scale":{"domain":["r","g","b"],"range":["#ff0000","#00ff00","#0000ff"]},"legend":null}}},
{"width":349,"height":150,"title":{"text":"(e) Regime S4","orient":"bottom","anchor":"middle","offset":19,"dx":-7},
"data":{"values":[
{"t":0.02,"s":12,"c":"b"},{"t":0.07,"s":12,"c":"b"},{"t":0.14,"s":12,"c":"g"},{"t":0.2,"s":12,"c":"b"},{"t":0.27,"s":12,"c":"b"},{"t":0.33,"s":12,"c":"b"},{"t":0.38,"s":12,"c":"b"},{"t":0.5,"s":12,"c":"b"},{"t":0.56,"s":12,"c":"b"},{"t":0.64,"s":12,"c":"b"},{"t":0.7,"s":12,"c":"b"},{"t":0.78,"s":12,"c":"b"},{"t":0.85,"s":12,"c":"b"},{"t":0.93,"s":12,"c":"b"},{"t":1.09,"s":12,"c":"r"},{"t":1.15,"s":12,"c":"b"},{"t":1.23,"s":12,"c":"g"},{"t":1.31,"s":12,"c":"b"},{"t":1.38,"s":12,"c":"b"},{"t":1.44,"s":12,"c":"b"},{"t":1.51,"s":12,"c":"b"},{"t":1.57,"s":12,"c":"b"},{"t":1.64,"s":12,"c":"b"},{"t":1.7,"s":12,"c":"b"},{"t":1.81,"s":12,"c":"r"},{"t":1.9,"s":12,"c":"b"},{"t":2.2,"s":12,"c":"r"},{"t":2.25,"s":12,"c":"g"},{"t":2.34,"s":12,"c":"r"},{"t":2.4,"s":12,"c":"r"},{"t":2.46,"s":12,"c":"r"},{"t":2.52,"s":12,"c":"g"},{"t":2.6,"s":12,"c":"r"},{"t":2.7,"s":12,"c":"r"},{"t":2.92,"s":12,"c":"g"},{"t":2.98,"s":12,"c":"b"},{"t":3.04,"s":12,"c":"b"},{"t":3.13,"s":12,"c":"b"},{"t":3.4,"s":12,"c":"b"},{"t":3.48,"s":12,"c":"g"},{"t":3.54,"s":12,"c":"b"},{"t":3.69,"s":12,"c":"r"},{"t":3.83,"s":12,"c":"r"},{"t":3.9,"s":12,"c":"r"},{"t":3.96,"s":12,"c":"r"},{"t":4.01,"s":12,"c":"g"},{"t":4.1,"s":12,"c":"r"},{"t":4.19,"s":12,"c":"g"},{"t":4.29,"s":12,"c":"g"},{"t":4.57,"s":12,"c":"r"},{"t":4.67,"s":12,"c":"g"},{"t":5.08,"s":12,"c":"r"},{"t":5.15,"s":12,"c":"r"},{"t":5.26,"s":12,"c":"g"},{"t":5.4,"s":12,"c":"r"},{"t":5.47,"s":12,"c":"b"},{"t":5.52,"s":12,"c":"r"},{"t":5.83,"s":12,"c":"g"},{"t":6.19,"s":12,"c":"b"},{"t":6.49,"s":12,"c":"g"},{"t":6.55,"s":12,"c":"b"},{"t":6.63,"s":12,"c":"r"},{"t":6.75,"s":12,"c":"r"},{"t":6.83,"s":12,"c":"r"},{"t":7.01,"s":12,"c":"g"},{"t":7.31,"s":12,"c":"r"},{"t":7.38,"s":12,"c":"g"},{"t":7.56,"s":12,"c":"r"},{"t":7.62,"s":12,"c":"r"},{"t":7.8,"s":12,"c":"g"},{"t":8.04,"s":12,"c":"g"},{"t":8.16,"s":12,"c":"r"},{"t":8.24,"s":12,"c":"r"},{"t":8.36,"s":12,"c":"g"},
{"t":0.03,"s":11,"c":"b"},{"t":0.1,"s":11,"c":"b"},{"t":0.16,"s":11,"c":"r"},{"t":0.25,"s":11,"c":"r"},{"t":0.33,"s":11,"c":"g"},{"t":0.38,"s":11,"c":"g"},{"t":0.57,"s":11,"c":"b"},{"t":0.63,"s":11,"c":"b"},{"t":0.69,"s":11,"c":"b"},{"t":0.75,"s":11,"c":"b"},{"t":0.81,"s":11,"c":"b"},{"t":0.87,"s":11,"c":"b"},{"t":1.08,"s":11,"c":"g"},{"t":1.15,"s":11,"c":"g"},{"t":1.22,"s":11,"c":"g"},{"t":1.3,"s":11,"c":"b"},{"t":1.4,"s":11,"c":"g"},{"t":1.52,"s":11,"c":"b"},{"t":1.58,"s":11,"c":"b"},{"t":1.64,"s":11,"c":"b"},{"t":1.74,"s":11,"c":"r"},{"t":1.79,"s":11,"c":"r"},{"t":2.14,"s":11,"c":"r"},{"t":2.2,"s":11,"c":"r"},{"t":2.55,"s":11,"c":"r"},{"t":2.65,"s":11,"c":"g"},{"t":2.72,"s":11,"c":"b"},{"t":2.85,"s":11,"c":"g"},{"t":3.02,"s":11,"c":"g"},{"t":3.3,"s":11,"c":"b"},{"t":3.36,"s":11,"c":"b"},{"t":3.45,"s":11,"c":"b"},{"t":3.52,"s":11,"c":"r"},{"t":3.6,"s":11,"c":"b"},{"t":3.68,"s":11,"c":"b"},{"t":3.76,"s":11,"c":"g"},{"t":3.84,"s":11,"c":"r"},{"t":3.93,"s":11,"c":"b"},{"t":4.03,"s":11,"c":"g"},{"t":4.2,"s":11,"c":"r"},{"t":4.25,"s":11,"c":"g"},{"t":4.65,"s":11,"c":"g"},{"t":4.72,"s":11,"c":"g"},{"t":4.78,"s":11,"c":"g"},{"t":5.06,"s":11,"c":"r"},{"t":5.14,"s":11,"c":"r"},{"t":5.22,"s":11,"c":"r"},{"t":5.35,"s":11,"c":"g"},{"t":5.45,"s":11,"c":"r"},{"t":5.6,"s":11,"c":"r"},{"t":6.06,"s":11,"c":"g"},{"t":6.2,"s":11,"c":"g"},{"t":6.6,"s":11,"c":"r"},{"t":6.68,"s":11,"c":"r"},{"t":6.76,"s":11,"c":"r"},{"t":6.84,"s":11,"c":"g"},{"t":6.92,"s":11,"c":"r"},{"t":7.0,"s":11,"c":"g"},{"t":7.3,"s":11,"c":"r"},{"t":7.38,"s":11,"c":"r"},{"t":7.45,"s":11,"c":"r"},{"t":7.55,"s":11,"c":"r"},{"t":7.7,"s":11,"c":"g"},{"t":7.9,"s":11,"c":"g"},{"t":8.15,"s":11,"c":"g"},{"t":8.25,"s":11,"c":"g"},
{"t":0.02,"s":10,"c":"g"},{"t":0.1,"s":10,"c":"b"},{"t":0.16,"s":10,"c":"b"},{"t":0.22,"s":10,"c":"b"},{"t":0.28,"s":10,"c":"b"},{"t":0.34,"s":10,"c":"b"},{"t":0.4,"s":10,"c":"b"},{"t":0.46,"s":10,"c":"b"},{"t":0.52,"s":10,"c":"b"},{"t":0.57,"s":10,"c":"b"},{"t":0.66,"s":10,"c":"b"},{"t":0.72,"s":10,"c":"b"},{"t":0.78,"s":10,"c":"b"},{"t":0.84,"s":10,"c":"b"},{"t":0.9,"s":10,"c":"b"},{"t":1.08,"s":10,"c":"g"},{"t":1.15,"s":10,"c":"g"},{"t":1.22,"s":10,"c":"b"},{"t":1.3,"s":10,"c":"b"},{"t":1.36,"s":10,"c":"b"},{"t":1.42,"s":10,"c":"b"},{"t":1.48,"s":10,"c":"b"},{"t":1.55,"s":10,"c":"b"},{"t":1.62,"s":10,"c":"b"},{"t":1.75,"s":10,"c":"b"},{"t":1.82,"s":10,"c":"b"},{"t":2.0,"s":10,"c":"b"},{"t":2.1,"s":10,"c":"b"},{"t":2.32,"s":10,"c":"r"},{"t":2.4,"s":10,"c":"r"},{"t":2.48,"s":10,"c":"r"},{"t":2.55,"s":10,"c":"r"},{"t":2.6,"s":10,"c":"g"},{"t":2.8,"s":10,"c":"g"},{"t":2.95,"s":10,"c":"g"},{"t":3.02,"s":10,"c":"b"},{"t":3.1,"s":10,"c":"g"},{"t":3.4,"s":10,"c":"b"},{"t":3.52,"s":10,"c":"b"},{"t":3.55,"s":10,"c":"r"},{"t":3.6,"s":10,"c":"b"},{"t":3.8,"s":10,"c":"b"},{"t":3.88,"s":10,"c":"b"},{"t":3.95,"s":10,"c":"b"},{"t":4.02,"s":10,"c":"b"},{"t":4.08,"s":10,"c":"b"},{"t":4.2,"s":10,"c":"b"},{"t":4.28,"s":10,"c":"g"},{"t":4.4,"s":10,"c":"b"},{"t":4.45,"s":10,"c":"g"},{"t":4.6,"s":10,"c":"g"},{"t":4.68,"s":10,"c":"b"},{"t":4.75,"s":10,"c":"b"},{"t":4.8,"s":10,"c":"b"},{"t":5.0,"s":10,"c":"b"},{"t":5.1,"s":10,"c":"b"},{"t":5.2,"s":10,"c":"b"},{"t":5.5,"s":10,"c":"g"},{"t":5.85,"s":10,"c":"b"},{"t":5.95,"s":10,"c":"g"},{"t":6.05,"s":10,"c":"r"},{"t":6.1,"s":10,"c":"g"},{"t":6.35,"s":10,"c":"g"},{"t":6.45,"s":10,"c":"g"},{"t":6.52,"s":10,"c":"g"},{"t":6.65,"s":10,"c":"r"},{"t":6.75,"s":10,"c":"b"},{"t":6.82,"s":10,"c":"b"},{"t":6.9,"s":10,"c":"r"},{"t":7.0,"s":10,"c":"g"},{"t":7.15,"s":10,"c":"r"},{"t":7.28,"s":10,"c":"r"},{"t":7.35,"s":10,"c":"r"},{"t":7.45,"s":10,"c":"g"},{"t":7.5,"s":10,"c":"r"},{"t":7.6,"s":10,"c":"g"},{"t":7.85,"s":10,"c":"r"},{"t":8.1,"s":10,"c":"r"},{"t":8.25,"s":10,"c":"g"},{"t":8.4,"s":10,"c":"b"},
{"t":0.03,"s":9,"c":"b"},{"t":0.1,"s":9,"c":"b"},{"t":0.18,"s":9,"c":"r"},{"t":0.3,"s":9,"c":"r"},{"t":0.55,"s":9,"c":"g"},{"t":0.6,"s":9,"c":"b"},{"t":0.66,"s":9,"c":"b"},{"t":0.72,"s":9,"c":"b"},{"t":0.78,"s":9,"c":"b"},{"t":0.86,"s":9,"c":"b"},{"t":1.03,"s":9,"c":"r"},{"t":1.1,"s":9,"c":"r"},{"t":1.18,"s":9,"c":"r"},{"t":1.25,"s":9,"c":"b"},{"t":1.32,"s":9,"c":"b"},{"t":1.4,"s":9,"c":"b"},{"t":1.5,"s":9,"c":"b"},{"t":1.57,"s":9,"c":"b"},{"t":1.65,"s":9,"c":"b"},{"t":1.72,"s":9,"c":"g"},{"t":1.9,"s":9,"c":"b"},{"t":2.2,"s":9,"c":"g"},{"t":2.28,"s":9,"c":"g"},{"t":2.4,"s":9,"c":"r"},{"t":2.48,"s":9,"c":"r"},{"t":2.6,"s":9,"c":"r"},{"t":2.7,"s":9,"c":"r"},{"t":2.9,"s":9,"c":"g"},{"t":3.0,"s":9,"c":"g"},{"t":3.1,"s":9,"c":"b"},{"t":3.2,"s":9,"c":"g"},{"t":3.45,"s":9,"c":"b"},{"t":3.6,"s":9,"c":"g"},{"t":3.75,"s":9,"c":"g"},{"t":3.85,"s":9,"c":"r"},{"t":4.0,"s":9,"c":"b"},{"t":4.1,"s":9,"c":"r"},{"t":4.25,"s":9,"c":"g"},{"t":4.45,"s":9,"c":"g"},{"t":4.55,"s":9,"c":"r"},{"t":4.65,"s":9,"c":"g"},{"t":4.75,"s":9,"c":"g"},{"t":5.05,"s":9,"c":"r"},{"t":5.13,"s":9,"c":"r"},{"t":5.22,"s":9,"c":"g"},{"t":5.4,"s":9,"c":"r"},{"t":5.65,"s":9,"c":"r"},{"t":6.0,"s":9,"c":"r"},{"t":6.2,"s":9,"c":"g"},{"t":6.35,"s":9,"c":"g"},{"t":6.45,"s":9,"c":"g"},{"t":6.7,"s":9,"c":"r"},{"t":6.78,"s":9,"c":"g"},{"t":6.9,"s":9,"c":"g"},{"t":7.05,"s":9,"c":"r"},{"t":7.25,"s":9,"c":"r"},{"t":7.35,"s":9,"c":"g"},{"t":7.45,"s":9,"c":"r"},{"t":7.75,"s":9,"c":"r"},{"t":7.85,"s":9,"c":"r"},{"t":8.15,"s":9,"c":"g"},{"t":8.25,"s":9,"c":"r"},{"t":8.35,"s":9,"c":"r"},
{"t":0.02,"s":8,"c":"g"},{"t":0.08,"s":8,"c":"g"},{"t":0.15,"s":8,"c":"b"},{"t":0.24,"s":8,"c":"b"},{"t":0.38,"s":8,"c":"b"},{"t":0.44,"s":8,"c":"b"},{"t":0.55,"s":8,"c":"b"},{"t":0.62,"s":8,"c":"b"},{"t":0.7,"s":8,"c":"g"},{"t":0.78,"s":8,"c":"g"},{"t":0.85,"s":8,"c":"g"},{"t":0.95,"s":8,"c":"b"},{"t":1.1,"s":8,"c":"b"},{"t":1.17,"s":8,"c":"b"},{"t":1.3,"s":8,"c":"b"},{"t":1.38,"s":8,"c":"g"},{"t":1.46,"s":8,"c":"b"},{"t":1.55,"s":8,"c":"b"},{"t":1.62,"s":8,"c":"b"},{"t":1.72,"s":8,"c":"g"},{"t":1.9,"s":8,"c":"b"},{"t":2.2,"s":8,"c":"g"},{"t":2.3,"s":8,"c":"r"},{"t":2.5,"s":8,"c":"g"},{"t":2.58,"s":8,"c":"g"},{"t":2.72,"s":8,"c":"r"},{"t":2.95,"s":8,"c":"b"},{"t":3.03,"s":8,"c":"r"},{"t":3.1,"s":8,"c":"g"},{"t":3.2,"s":8,"c":"b"},{"t":3.45,"s":8,"c":"g"},{"t":3.6,"s":8,"c":"b"},{"t":3.75,"s":8,"c":"b"},{"t":3.9,"s":8,"c":"g"},{"t":4.0,"s":8,"c":"r"},{"t":4.12,"s":8,"c":"b"},{"t":4.25,"s":8,"c":"g"},{"t":4.35,"s":8,"c":"b"},{"t":4.55,"s":8,"c":"g"},{"t":4.62,"s":8,"c":"b"},{"t":4.7,"s":8,"c":"b"},{"t":4.78,"s":8,"c":"g"},{"t":5.0,"s":8,"c":"b"},{"t":5.1,"s":8,"c":"r"},{"t":5.2,"s":8,"c":"b"},{"t":5.35,"s":8,"c":"b"},{"t":5.5,"s":8,"c":"r"},{"t":6.05,"s":8,"c":"r"},{"t":6.3,"s":8,"c":"g"},{"t":6.45,"s":8,"c":"g"},{"t":6.52,"s":8,"c":"g"},{"t":6.7,"s":8,"c":"g"},{"t":6.78,"s":8,"c":"b"},{"t":6.85,"s":8,"c":"b"},{"t":6.92,"s":8,"c":"r"},{"t":7.25,"s":8,"c":"b"},{"t":7.32,"s":8,"c":"r"},{"t":7.4,"s":8,"c":"b"},{"t":7.48,"s":8,"c":"g"},{"t":7.55,"s":8,"c":"r"},{"t":7.75,"s":8,"c":"r"},{"t":7.82,"s":8,"c":"r"},{"t":7.9,"s":8,"c":"r"},{"t":8.15,"s":8,"c":"g"},{"t":8.3,"s":8,"c":"r"},
{"t":0.02,"s":7,"c":"g"},{"t":0.08,"s":7,"c":"b"},{"t":0.14,"s":7,"c":"b"},{"t":0.2,"s":7,"c":"b"},{"t":0.26,"s":7,"c":"b"},{"t":0.33,"s":7,"c":"b"},{"t":0.42,"s":7,"c":"b"},{"t":0.48,"s":7,"c":"b"},{"t":0.55,"s":7,"c":"b"},{"t":0.68,"s":7,"c":"g"},{"t":0.75,"s":7,"c":"g"},{"t":0.85,"s":7,"c":"r"},{"t":0.95,"s":7,"c":"g"},{"t":1.08,"s":7,"c":"b"},{"t":1.15,"s":7,"c":"b"},{"t":1.22,"s":7,"c":"b"},{"t":1.3,"s":7,"c":"b"},{"t":1.36,"s":7,"c":"b"},{"t":1.44,"s":7,"c":"b"},{"t":1.52,"s":7,"c":"b"},{"t":1.62,"s":7,"c":"b"},{"t":1.78,"s":7,"c":"r"},{"t":1.9,"s":7,"c":"b"},{"t":2.12,"s":7,"c":"b"},{"t":2.25,"s":7,"c":"b"},{"t":2.4,"s":7,"c":"g"},{"t":2.5,"s":7,"c":"r"},{"t":2.6,"s":7,"c":"r"},{"t":2.82,"s":7,"c":"b"},{"t":2.9,"s":7,"c":"b"},{"t":3.0,"s":7,"c":"g"},{"t":3.1,"s":7,"c":"b"},{"t":3.18,"s":7,"c":"b"},{"t":3.33,"s":7,"c":"b"},{"t":3.44,"s":7,"c":"b"},{"t":3.58,"s":7,"c":"r"},{"t":3.82,"s":7,"c":"b"},{"t":3.9,"s":7,"c":"b"},{"t":4.1,"s":7,"c":"b"},{"t":4.28,"s":7,"c":"g"},{"t":4.45,"s":7,"c":"r"},{"t":4.55,"s":7,"c":"r"},{"t":4.68,"s":7,"c":"b"},{"t":4.75,"s":7,"c":"r"},{"t":4.85,"s":7,"c":"g"},{"t":5.0,"s":7,"c":"b"},{"t":5.08,"s":7,"c":"b"},{"t":5.16,"s":7,"c":"b"},{"t":5.28,"s":7,"c":"b"},{"t":5.38,"s":7,"c":"r"},{"t":5.5,"s":7,"c":"g"},{"t":5.98,"s":7,"c":"r"},{"t":6.18,"s":7,"c":"r"},{"t":6.55,"s":7,"c":"g"},{"t":6.62,"s":7,"c":"b"},{"t":6.7,"s":7,"c":"b"},{"t":6.78,"s":7,"c":"r"},{"t":6.86,"s":7,"c":"g"},{"t":7.15,"s":7,"c":"r"},{"t":7.3,"s":7,"c":"r"},{"t":7.4,"s":7,"c":"g"},{"t":7.5,"s":7,"c":"b"},{"t":7.78,"s":7,"c":"r"},{"t":7.86,"s":7,"c":"r"},{"t":8.2,"s":7,"c":"g"},
{"t":0.03,"s":6,"c":"g"},{"t":0.1,"s":6,"c":"b"},{"t":0.17,"s":6,"c":"b"},{"t":0.24,"s":6,"c":"b"},{"t":0.3,"s":6,"c":"b"},{"t":0.43,"s":6,"c":"b"},{"t":0.55,"s":6,"c":"b"},{"t":0.65,"s":6,"c":"r"},{"t":0.72,"s":6,"c":"r"},{"t":0.8,"s":6,"c":"g"},{"t":0.9,"s":6,"c":"g"},{"t":1.08,"s":6,"c":"r"},{"t":1.2,"s":6,"c":"g"},{"t":1.28,"s":6,"c":"g"},{"t":1.35,"s":6,"c":"b"},{"t":1.42,"s":6,"c":"b"},{"t":1.5,"s":6,"c":"b"},{"t":1.58,"s":6,"c":"b"},{"t":1.68,"s":6,"c":"g"},{"t":1.85,"s":6,"c":"b"},{"t":2.05,"s":6,"c":"g"},{"t":2.2,"s":6,"c":"g"},{"t":2.28,"s":6,"c":"g"},{"t":2.42,"s":6,"c":"r"},{"t":2.5,"s":6,"c":"g"},{"t":2.58,"s":6,"c":"g"},{"t":2.66,"s":6,"c":"g"},{"t":2.85,"s":6,"c":"b"},{"t":3.03,"s":6,"c":"g"},{"t":3.12,"s":6,"c":"b"},{"t":3.3,"s":6,"c":"b"},{"t":3.4,"s":6,"c":"b"},{"t":3.5,"s":6,"c":"g"},{"t":3.6,"s":6,"c":"r"},{"t":3.8,"s":6,"c":"b"},{"t":3.88,"s":6,"c":"b"},{"t":3.98,"s":6,"c":"g"},{"t":4.1,"s":6,"c":"g"},{"t":4.2,"s":6,"c":"g"},{"t":4.4,"s":6,"c":"g"},{"t":4.6,"s":6,"c":"b"},{"t":4.7,"s":6,"c":"b"},{"t":4.78,"s":6,"c":"b"},{"t":5.0,"s":6,"c":"b"},{"t":5.1,"s":6,"c":"b"},{"t":5.2,"s":6,"c":"b"},{"t":5.32,"s":6,"c":"r"},{"t":5.55,"s":6,"c":"g"},{"t":5.75,"s":6,"c":"g"},{"t":6.05,"s":6,"c":"b"},{"t":6.15,"s":6,"c":"r"},{"t":6.45,"s":6,"c":"g"},{"t":6.52,"s":6,"c":"g"},{"t":6.6,"s":6,"c":"g"},{"t":6.68,"s":6,"c":"b"},{"t":6.76,"s":6,"c":"g"},{"t":6.84,"s":6,"c":"b"},{"t":7.05,"s":6,"c":"g"},{"t":7.28,"s":6,"c":"b"},{"t":7.45,"s":6,"c":"b"},{"t":7.52,"s":6,"c":"r"},{"t":7.6,"s":6,"c":"r"},{"t":7.8,"s":6,"c":"g"},{"t":7.88,"s":6,"c":"g"},{"t":7.96,"s":6,"c":"b"},{"t":8.2,"s":6,"c":"g"},
{"t":0.03,"s":5,"c":"b"},{"t":0.1,"s":5,"c":"b"},{"t":0.24,"s":5,"c":"r"},{"t":0.3,"s":5,"c":"r"},{"t":0.38,"s":5,"c":"g"},{"t":0.58,"s":5,"c":"b"},{"t":0.65,"s":5,"c":"b"},{"t":0.72,"s":5,"c":"b"},{"t":0.8,"s":5,"c":"b"},{"t":0.92,"s":5,"c":"b"},{"t":1.14,"s":5,"c":"r"},{"t":1.22,"s":5,"c":"g"},{"t":1.36,"s":5,"c":"g"},{"t":1.52,"s":5,"c":"b"},{"t":1.6,"s":5,"c":"b"},{"t":1.72,"s":5,"c":"r"},{"t":2.12,"s":5,"c":"r"},{"t":2.2,"s":5,"c":"g"},{"t":2.55,"s":5,"c":"r"},{"t":2.65,"s":5,"c":"g"},{"t":2.78,"s":5,"c":"b"},{"t":2.95,"s":5,"c":"b"},{"t":3.03,"s":5,"c":"b"},{"t":3.12,"s":5,"c":"b"},{"t":3.35,"s":5,"c":"g"},{"t":3.43,"s":5,"c":"b"},{"t":3.55,"s":5,"c":"g"},{"t":3.65,"s":5,"c":"g"},{"t":3.8,"s":5,"c":"r"},{"t":4.03,"s":5,"c":"g"},{"t":4.1,"s":5,"c":"r"},{"t":4.27,"s":5,"c":"g"},{"t":4.6,"s":5,"c":"g"},{"t":4.68,"s":5,"c":"g"},{"t":4.78,"s":5,"c":"g"},{"t":5.08,"s":5,"c":"r"},{"t":5.25,"s":5,"c":"r"},{"t":5.42,"s":5,"c":"r"},{"t":5.5,"s":5,"c":"g"},{"t":5.72,"s":5,"c":"r"},{"t":5.98,"s":5,"c":"g"},{"t":6.1,"s":5,"c":"b"},{"t":6.45,"s":5,"c":"g"},{"t":6.55,"s":5,"c":"g"},{"t":6.72,"s":5,"c":"r"},{"t":6.85,"s":5,"c":"g"},{"t":7.0,"s":5,"c":"r"},{"t":7.25,"s":5,"c":"r"},{"t":7.32,"s":5,"c":"r"},{"t":7.42,"s":5,"c":"r"},{"t":7.6,"s":5,"c":"g"},{"t":7.78,"s":5,"c":"r"},{"t":8.12,"s":5,"c":"g"},{"t":8.3,"s":5,"c":"r"},
{"t":0.03,"s":4,"c":"b"},{"t":0.1,"s":4,"c":"g"},{"t":0.18,"s":4,"c":"r"},{"t":0.25,"s":4,"c":"r"},{"t":0.58,"s":4,"c":"b"},{"t":0.72,"s":4,"c":"b"},{"t":0.78,"s":4,"c":"b"},{"t":0.86,"s":4,"c":"b"},{"t":1.05,"s":4,"c":"b"},{"t":1.12,"s":4,"c":"b"},{"t":1.18,"s":4,"c":"b"},{"t":1.35,"s":4,"c":"g"},{"t":1.5,"s":4,"c":"b"},{"t":1.6,"s":4,"c":"b"},{"t":1.72,"s":4,"c":"r"},{"t":2.12,"s":4,"c":"r"},{"t":2.2,"s":4,"c":"r"},{"t":2.28,"s":4,"c":"r"},{"t":2.36,"s":4,"c":"g"},{"t":2.6,"s":4,"c":"g"},{"t":2.68,"s":4,"c":"g"},{"t":2.8,"s":4,"c":"g"},{"t":3.0,"s":4,"c":"b"},{"t":3.08,"s":4,"c":"b"},{"t":3.16,"s":4,"c":"b"},{"t":3.3,"s":4,"c":"g"},{"t":3.55,"s":4,"c":"g"},{"t":3.65,"s":4,"c":"g"},{"t":3.8,"s":4,"c":"r"},{"t":4.0,"s":4,"c":"g"},{"t":4.2,"s":4,"c":"g"},{"t":4.3,"s":4,"c":"b"},{"t":4.6,"s":4,"c":"r"},{"t":4.8,"s":4,"c":"r"},{"t":4.95,"s":4,"c":"r"},{"t":5.1,"s":4,"c":"g"},{"t":5.3,"s":4,"c":"r"},{"t":5.5,"s":4,"c":"r"},{"t":5.65,"s":4,"c":"g"},{"t":5.82,"s":4,"c":"b"},{"t":6.08,"s":4,"c":"b"},{"t":6.4,"s":4,"c":"g"},{"t":6.48,"s":4,"c":"g"},{"t":6.56,"s":4,"c":"g"},{"t":6.65,"s":4,"c":"b"},{"t":6.75,"s":4,"c":"b"},{"t":6.85,"s":4,"c":"r"},{"t":7.25,"s":4,"c":"b"},{"t":7.32,"s":4,"c":"r"},{"t":7.4,"s":4,"c":"r"},{"t":7.48,"s":4,"c":"r"},{"t":7.55,"s":4,"c":"r"},{"t":7.75,"s":4,"c":"g"},{"t":7.85,"s":4,"c":"r"},{"t":8.15,"s":4,"c":"r"},{"t":8.3,"s":4,"c":"g"},
{"t":0.02,"s":3,"c":"g"},{"t":0.1,"s":3,"c":"b"},{"t":0.2,"s":3,"c":"b"},{"t":0.35,"s":3,"c":"b"},{"t":0.42,"s":3,"c":"b"},{"t":0.5,"s":3,"c":"b"},{"t":0.66,"s":3,"c":"g"},{"t":0.74,"s":3,"c":"g"},{"t":0.85,"s":3,"c":"r"},{"t":0.92,"s":3,"c":"b"},{"t":1.0,"s":3,"c":"g"},{"t":1.1,"s":3,"c":"b"},{"t":1.18,"s":3,"c":"b"},{"t":1.26,"s":3,"c":"b"},{"t":1.38,"s":3,"c":"b"},{"t":1.48,"s":3,"c":"g"},{"t":1.6,"s":3,"c":"b"},{"t":1.75,"s":3,"c":"r"},{"t":1.9,"s":3,"c":"b"},{"t":2.1,"s":3,"c":"r"},{"t":2.25,"s":3,"c":"b"},{"t":2.35,"s":3,"c":"r"},{"t":2.42,"s":3,"c":"r"},{"t":2.5,"s":3,"c":"r"},{"t":2.62,"s":3,"c":"g"},{"t":2.85,"s":3,"c":"g"},{"t":3.0,"s":3,"c":"b"},{"t":3.12,"s":3,"c":"b"},{"t":3.38,"s":3,"c":"b"},{"t":3.55,"s":3,"c":"r"},{"t":3.62,"s":3,"c":"r"},{"t":3.7,"s":3,"c":"g"},{"t":3.85,"s":3,"c":"b"},{"t":4.0,"s":3,"c":"r"},{"t":4.12,"s":3,"c":"g"},{"t":4.25,"s":3,"c":"b"},{"t":4.4,"s":3,"c":"g"},{"t":4.55,"s":3,"c":"g"},{"t":4.65,"s":3,"c":"g"},{"t":4.8,"s":3,"c":"b"},{"t":5.0,"s":3,"c":"b"},{"t":5.1,"s":3,"c":"r"},{"t":5.3,"s":3,"c":"r"},{"t":5.5,"s":3,"c":"b"},{"t":5.8,"s":3,"c":"g"},{"t":5.9,"s":3,"c":"g"},{"t":6.0,"s":3,"c":"g"},{"t":6.08,"s":3,"c":"b"},{"t":6.5,"s":3,"c":"r"},{"t":6.65,"s":3,"c":"g"},{"t":6.75,"s":3,"c":"b"},{"t":6.85,"s":3,"c":"r"},{"t":7.0,"s":3,"c":"r"},{"t":7.08,"s":3,"c":"r"},{"t":7.2,"s":3,"c":"g"},{"t":7.3,"s":3,"c":"g"},{"t":7.45,"s":3,"c":"g"},{"t":7.55,"s":3,"c":"g"},{"t":7.75,"s":3,"c":"r"},{"t":7.85,"s":3,"c":"r"},{"t":7.92,"s":3,"c":"r"},{"t":8.2,"s":3,"c":"g"},
{"t":0.03,"s":2,"c":"b"},{"t":0.1,"s":2,"c":"g"},{"t":0.18,"s":2,"c":"r"},{"t":0.27,"s":2,"c":"g"},{"t":0.43,"s":2,"c":"g"},{"t":0.6,"s":2,"c":"b"},{"t":0.68,"s":2,"c":"b"},{"t":0.76,"s":2,"c":"r"},{"t":0.82,"s":2,"c":"b"},{"t":0.92,"s":2,"c":"g"},{"t":1.05,"s":2,"c":"b"},{"t":1.2,"s":2,"c":"b"},{"t":1.28,"s":2,"c":"b"},{"t":1.42,"s":2,"c":"b"},{"t":1.55,"s":2,"c":"b"},{"t":1.62,"s":2,"c":"b"},{"t":1.72,"s":2,"c":"r"},{"t":1.8,"s":2,"c":"g"},{"t":1.9,"s":2,"c":"b"},{"t":2.15,"s":2,"c":"r"},{"t":2.25,"s":2,"c":"g"},{"t":2.65,"s":2,"c":"g"},{"t":2.8,"s":2,"c":"g"},{"t":2.98,"s":2,"c":"b"},{"t":3.05,"s":2,"c":"b"},{"t":3.12,"s":2,"c":"b"},{"t":3.2,"s":2,"c":"b"},{"t":3.35,"s":2,"c":"g"},{"t":3.42,"s":2,"c":"g"},{"t":3.55,"s":2,"c":"g"},{"t":3.65,"s":2,"c":"r"},{"t":3.85,"s":2,"c":"r"},{"t":4.0,"s":2,"c":"g"},{"t":4.08,"s":2,"c":"g"},{"t":4.15,"s":2,"c":"r"},{"t":4.25,"s":2,"c":"r"},{"t":4.6,"s":2,"c":"g"},{"t":4.7,"s":2,"c":"g"},{"t":4.88,"s":2,"c":"r"},{"t":5.08,"s":2,"c":"r"},{"t":5.25,"s":2,"c":"r"},{"t":5.42,"s":2,"c":"g"},{"t":5.5,"s":2,"c":"b"},{"t":5.75,"s":2,"c":"r"},{"t":5.85,"s":2,"c":"r"},{"t":6.05,"s":2,"c":"g"},{"t":6.1,"s":2,"c":"b"},{"t":6.45,"s":2,"c":"g"},{"t":6.65,"s":2,"c":"g"},{"t":6.82,"s":2,"c":"g"},{"t":7.18,"s":2,"c":"r"},{"t":7.28,"s":2,"c":"r"},{"t":7.35,"s":2,"c":"r"},{"t":7.6,"s":2,"c":"g"},{"t":7.85,"s":2,"c":"r"},{"t":7.92,"s":2,"c":"r"},{"t":8.12,"s":2,"c":"g"},{"t":8.25,"s":2,"c":"r"},{"t":8.32,"s":2,"c":"r"},
{"t":0.03,"s":1,"c":"b"},{"t":0.1,"s":1,"c":"b"},{"t":0.17,"s":1,"c":"g"},{"t":0.25,"s":1,"c":"b"},{"t":0.42,"s":1,"c":"g"},{"t":0.5,"s":1,"c":"g"},{"t":0.58,"s":1,"c":"b"},{"t":0.64,"s":1,"c":"b"},{"t":0.7,"s":1,"c":"b"},{"t":0.78,"s":1,"c":"b"},{"t":0.85,"s":1,"c":"r"},{"t":0.95,"s":1,"c":"g"},{"t":1.02,"s":1,"c":"b"},{"t":1.1,"s":1,"c":"b"},{"t":1.18,"s":1,"c":"b"},{"t":1.28,"s":1,"c":"g"},{"t":1.36,"s":1,"c":"g"},{"t":1.52,"s":1,"c":"b"},{"t":1.6,"s":1,"c":"b"},{"t":1.7,"s":1,"c":"r"},{"t":1.78,"s":1,"c":"r"},{"t":1.9,"s":1,"c":"b"},{"t":2.1,"s":1,"c":"r"},{"t":2.17,"s":1,"c":"r"},{"t":2.27,"s":1,"c":"g"},{"t":2.35,"s":1,"c":"g"},{"t":2.65,"s":1,"c":"g"},{"t":3.0,"s":1,"c":"b"},{"t":3.07,"s":1,"c":"b"},{"t":3.14,"s":1,"c":"b"},{"t":3.22,"s":1,"c":"b"},{"t":3.38,"s":1,"c":"g"},{"t":3.45,"s":1,"c":"g"},{"t":3.6,"s":1,"c":"g"},{"t":3.75,"s":1,"c":"r"},{"t":3.82,"s":1,"c":"r"},{"t":4.08,"s":1,"c":"r"},{"t":4.25,"s":1,"c":"g"},{"t":4.6,"s":1,"c":"r"},{"t":4.72,"s":1,"c":"g"},{"t":4.88,"s":1,"c":"r"},{"t":5.08,"s":1,"c":"g"},{"t":5.25,"s":1,"c":"g"},{"t":5.42,"s":1,"c":"g"},{"t":5.5,"s":1,"c":"b"},{"t":5.75,"s":1,"c":"g"},{"t":5.85,"s":1,"c":"r"},{"t":6.0,"s":1,"c":"g"},{"t":6.08,"s":1,"c":"g"},{"t":6.45,"s":1,"c":"g"},{"t":6.65,"s":1,"c":"b"},{"t":6.8,"s":1,"c":"r"},{"t":7.18,"s":1,"c":"b"},{"t":7.28,"s":1,"c":"r"},{"t":7.35,"s":1,"c":"r"},{"t":7.55,"s":1,"c":"r"},{"t":7.85,"s":1,"c":"r"},{"t":8.12,"s":1,"c":"g"},{"t":8.2,"s":1,"c":"g"},{"t":8.3,"s":1,"c":"r"}
]},
"mark":{"type":"point","filled":true,"opacity":1,"size":5,"shape":"M-1.7,-1H1.7V1H-1.7Z"},
"encoding":{"x":{"field":"t","type":"quantitative","scale":{"domain":[0,8.45]},"axis":{"values":[0,1,2,3,4,5,6,7,8],"format":"~g","title":"×10⁴","titleAnchor":"end","titleAlign":"right","titlePadding":4}},"y":{"field":"s","type":"quantitative","scale":{"domain":[0,13]},"axis":{"values":[0,2,4,6,8,10,12],"title":null}},"color":{"field":"c","type":"nominal","scale":{"domain":["r","g","b"],"range":["#ff0000","#00ff00","#0000ff"]},"legend":null}}}
]}
]}
